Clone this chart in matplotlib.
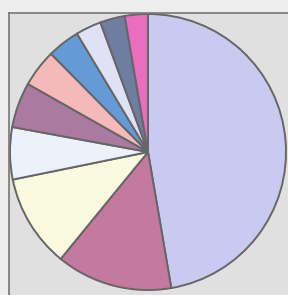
import matplotlib
matplotlib.use('Agg')
import matplotlib.pyplot as plt

# slice shares (percent), clockwise from 12 o'clock
shares = [47.3, 13.6, 10.9, 6.1, 5.3, 4.4, 3.8, 3.0, 2.9, 2.7]
colors = ['#C8CAF0', '#C47A9E', '#FAFAE0', '#EBF2FA', '#AA7AA0',
          '#F5B9B9', '#649BD7', '#E1E1F5', '#6E7DA0', '#EB6EBE']

fig = plt.figure(figsize=(2.88, 2.95), dpi=100)
fig.patch.set_facecolor('#EDEDED')

ax = fig.add_axes([9 / 288, 0, 1 - 9 / 288, 282 / 295])

ax.pie(shares, colors=colors, startangle=90, counterclock=False,
       radius=1.0,
       wedgeprops={'edgecolor': '#666666', 'linewidth': 1.4})

# pie() switches the frame off; bring back the grey box behind it
ax.set_frame_on(True)
ax.set_facecolor('#E0E0E0')
ax.set_aspect('auto')
ax.set_xlim(-139 / 138, 140 / 138)
ax.set_ylim(-143 / 138, 139 / 138)
ax.set_xticks([])
ax.set_yticks([])
for side in ['right', 'bottom']:
    ax.spines[side].set_visible(False)
for side in ['left', 'top']:
    ax.spines[side].set_visible(True)
    ax.spines[side].set_color('#777777')
    ax.spines[side].set_linewidth(1.2)

fig.savefig('out.png', dpi=100, facecolor=fig.get_facecolor())
